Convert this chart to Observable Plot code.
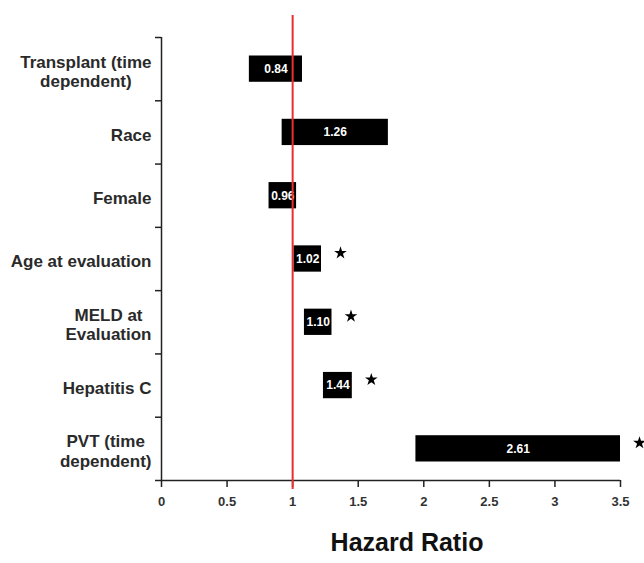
<!DOCTYPE html>
<html>
<head>
<meta charset="utf-8">
<script src="https://cdn.jsdelivr.net/npm/d3@7"></script>
<script src="https://cdn.jsdelivr.net/npm/@observablehq/plot@0.6"></script>
<style>
  body { margin: 0; background: #fff; }
</style>
</head>
<body>
<div id="chart"></div>
<script>
const categories = ["Transplant (time\ndependent)", "Race", "Female", "Age at evaluation", "MELD at\nEvaluation", "Hepatitis C", "PVT (time\ndependent)"];
const hazardRatios = [0.84, 1.26, 0.96, 1.02, 1.10, 1.44, 2.61];
const lowerBounds = [0.67, 0.92, 0.82, 1.01, 1.09, 1.235, 1.94];
const upperBounds = [1.075, 1.73, 1.03, 1.22, 1.30, 1.455, 3.5];
const significant = [false, false, false, true, true, true, true];
const xTicks = [0, 0.5, 1, 1.5, 2, 2.5, 3, 3.5];
const xTickLabels = ["0", "0.5", "1", "1.5", "2", "2.5", "3", "3.5"];
const referenceValue = 1;
const axisTitle = "Hazard Ratio";

const fontFamily = "Arial, 'Liberation Sans', sans-serif";
const labelFontSize = 17;

const rows = categories.map((c, i) => ({
  i, c, hr: hazardRatios[i], lo: lowerBounds[i], hi: upperBounds[i], sig: significant[i]
}));
const boundaries = d3.range(categories.length + 1);

// measure each label block so centred lines can be right-aligned against the axis
const ctx = document.createElement("canvas").getContext("2d");
ctx.font = `bold ${labelFontSize}px ${fontFamily}`;
const blockWidth = s => d3.max(s.split("\n"), line => ctx.measureText(line).width);

const labelMarks = rows.map(r => Plot.text([r], {
  frameAnchor: "left", y: d => d.i + 0.5, text: "c",
  dx: -10 - blockWidth(r.c) / 2, dy: 2,
  textAnchor: "middle", lineAnchor: "middle", lineHeight: 1.15,
  fontSize: labelFontSize, fontWeight: "bold", fill: "#2a2a2a"
}));

const plot = Plot.plot({
  width: 644,
  height: 563,
  marginLeft: 161,
  marginRight: 24,
  marginTop: 37,
  marginBottom: 83,
  style: {fontFamily, background: "#fff"},
  x: {domain: [0, 3.5]},
  y: {domain: [0, categories.length], reverse: true},
  marks: [
    Plot.rect(rows, {x1: "lo", x2: "hi", y1: "i", y2: d => d.i + 1, insetTop: 18.5, insetBottom: 18.5, fill: "black"}),
    Plot.text(rows, {x: d => (d.lo + d.hi) / 2, y: d => d.i + 0.5, text: d => d.hr.toFixed(2), fill: "white", fontSize: 12, fontWeight: "bold"}),
    Plot.dot(rows.filter(d => d.sig), {x: "hi", y: d => d.i + 0.5, symbol: "star", r: 4, fill: "black", stroke: "none", dx: 19, dy: -6}),
    Plot.axisY({ticks: boundaries, tickFormat: () => "", tickSize: 6, stroke: "#222", strokeWidth: 1.5, label: null}),
    Plot.axisX({ticks: xTicks, tickFormat: (d, i) => xTickLabels[i], tickSize: 7, tickPadding: 9, fontSize: 13, fontWeight: "bold", stroke: "#222", fill: "#333", strokeWidth: 1.5, label: null}),
    Plot.ruleX([0], {stroke: "#222", strokeWidth: 1.5}),
    Plot.ruleY([categories.length], {stroke: "#222", strokeWidth: 1.5}),
    ...labelMarks,
    Plot.text([axisTitle], {frameAnchor: "bottom", dy: 70, dx: 16, fontSize: 25, fontWeight: "bold", fill: "#111"}),
    Plot.ruleX([referenceValue], {stroke: "#e8302f", strokeWidth: 2, insetTop: -22, insetBottom: -9})
  ]
});
document.getElementById("chart").appendChild(plot);
</script>
</body>
</html>
